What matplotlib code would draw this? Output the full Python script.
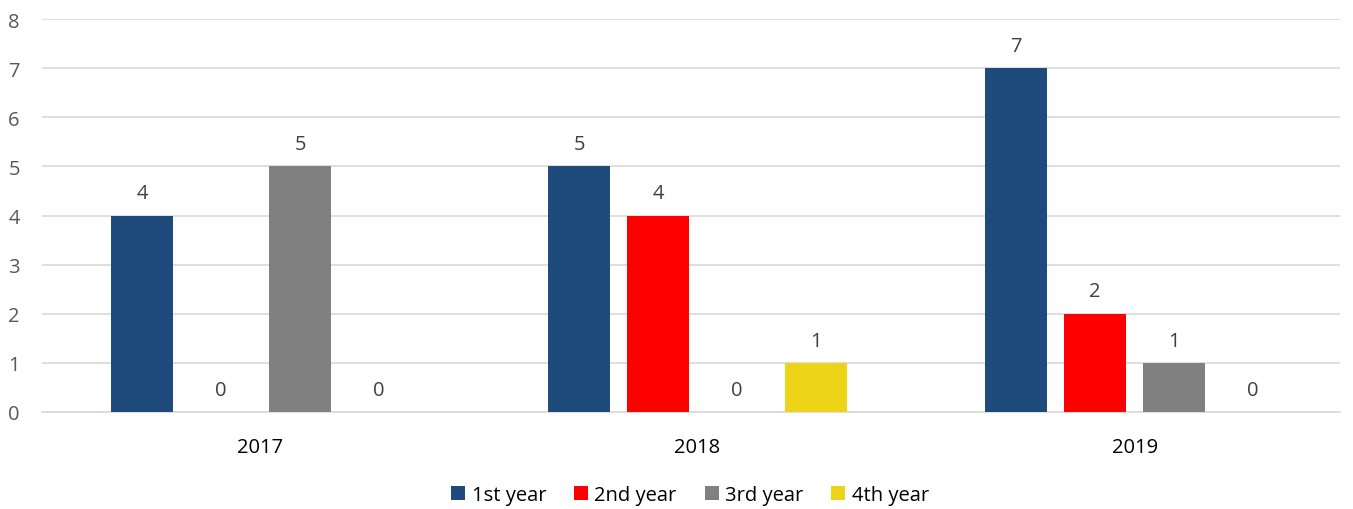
import matplotlib
matplotlib.use("Agg")
import matplotlib.pyplot as plt
import numpy as np

categories = ["2017", "2018", "2019"]
series_names = ["1st year", "2nd year", "3rd year", "4th year"]
first_year = [4, 5, 7]
second_year = [0, 4, 2]
third_year = [5, 0, 1]
fourth_year = [0, 1, 0]
colors = ["#1F4A7C", "#FF0000", "#808080", "#EDD418"]

plt.rcParams['font.family'] = ['Open Sans', 'DejaVu Sans']
FS = 14.5

fig = plt.figure(figsize=(13.53, 5.10), dpi=100)
ax = fig.add_axes([42/1353, 1-413/510, (1340-42)/1353, (413-20)/510])

x = np.arange(len(categories))
width = 0.142
step = 0.1808
data = [first_year, second_year, third_year, fourth_year]
for i, (vals, name, c) in enumerate(zip(data, series_names, colors)):
    off = (i - 1.5) * step
    bars = ax.bar(x + off, vals, width, color=c, label=name, zorder=3)
    for b, v in zip(bars, vals):
        ax.text(b.get_x() + b.get_width()/2, v + 0.25, str(v), ha='center', va='bottom',
                fontsize=FS, color='#404040')

ax.set_xlim(-0.5, 2.47)
ax.set_ylim(0, 8)
ax.set_yticks(range(0, 9))
ax.yaxis.grid(True, color='#D9D9D9', linewidth=1.2, zorder=0)
for s in ['top', 'right', 'left']:
    ax.spines[s].set_visible(False)
ax.spines['bottom'].set_color('#D9D9D9')
ax.spines['bottom'].set_linewidth(1.2)
ax.tick_params(axis='y', length=0, labelsize=FS, labelcolor='#595959', pad=16)
ax.tick_params(axis='x', length=0, labelsize=FS, labelcolor='#000000', pad=18)
ax.set_xticks(x)
ax.set_xticklabels(categories)

leg = fig.legend(loc='center', bbox_to_anchor=(690/1353, 1-496/510), ncol=4, frameon=False,
                 fontsize=FS, handlelength=0.7, handleheight=0.7, handletextpad=0.3,
                 columnspacing=1.4)

fig.savefig("out.png", dpi=100)
